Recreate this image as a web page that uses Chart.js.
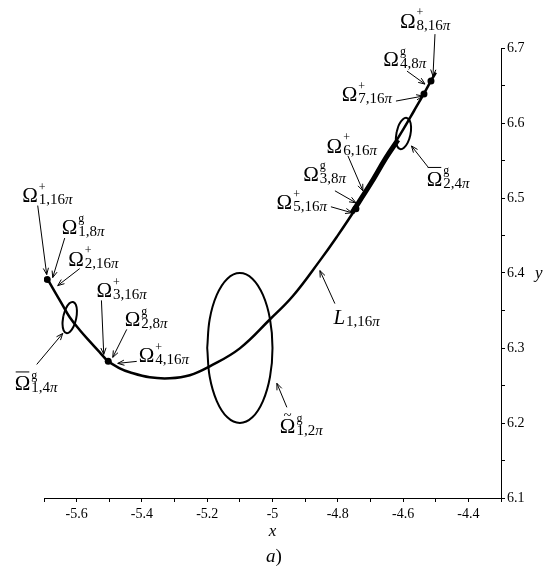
<!DOCTYPE html>
<html>
<head>
<meta charset="utf-8">
<script src="https://cdn.jsdelivr.net/npm/chart.js@4.4.0/dist/chart.umd.min.js"></script>
<style>
html, body { margin: 0; padding: 0; background: #fff; }
#wrap { width: 550px; height: 577px; position: relative; }
</style>
</head>
<body>
<div id="wrap"><canvas id="chart_trajectory"></canvas></div>
<script>
// trajectory L_{1,16pi}
var curveX = [-5.6917, -5.6672, -5.6457, -5.6212, -5.5906, -5.5599, -5.5292, -5.5032, -5.4679, -5.4373,
              -5.3760, -5.3147, -5.2534, -5.1921, -5.1001, -5.0082, -4.9376, -4.8549, -4.8027, -4.7476,
              -4.7015, -4.6525, -4.6004, -4.5667, -4.5360, -4.5116, -4.4994];
var curveY = [6.3939, 6.3753, 6.3593, 6.3411, 6.3241, 6.3088, 6.2942, 6.2822, 6.2729, 6.2676,
              6.2609, 6.2596, 6.2636, 6.2755, 6.2995, 6.3380, 6.3693, 6.4165, 6.4484, 6.4843,
              6.5176, 6.5535, 6.5907, 6.6160, 6.6392, 6.6585, 6.6672];

// heavier stretch of the trajectory between Omega_5 and Omega_{2,4}
var thickX = [-4.7567, -4.7015, -4.6525, -4.6157];
var thickY = [6.4803, 6.5176, 6.5535, 6.5774];

// Omega-bar^g_{1,4pi}
var ring1X = [-5.6408, -5.6329, -5.6221, -5.6111, -5.6025, -5.5991, -5.6016, -5.6093, -5.6203, -5.6313, -5.6399, -5.6433, -5.6408];
var ring1Y = [6.3426, 6.3527, 6.3596, 6.3614, 6.3578, 6.3495, 6.3388, 6.3287, 6.3218, 6.3199, 6.3235, 6.3319, 6.3426];

// Omega-bar^g_{2,4pi}
var ring2X = [-4.6197, -4.6120, -4.6004, -4.5887, -4.5795, -4.5755, -4.5777, -4.5857, -4.5973, -4.6090, -4.6181, -4.6221, -4.6197];
var ring2Y = [6.5880, 6.5981, 6.6051, 6.6068, 6.6031, 6.5948, 6.5840, 6.5739, 6.5670, 6.5652, 6.5690, 6.5773, 6.5880];

// Omega-tilde^g_{1,2pi}
var ring3X = [-5.2, -5.1924, -5.1707, -5.1383, -5.1, -5.0617, -5.0293, -5.0076, -5.0, -5.0076, -5.0293, -5.0617, -5.1, -5.1383, -5.1707, -5.1924, -5.2];
var ring3Y = [6.3, 6.3383, 6.3707, 6.3924, 6.4, 6.3924, 6.3707, 6.3383, 6.3, 6.2617, 6.2293, 6.2076, 6.2, 6.2076, 6.2293, 6.2617, 6.3];

// marked points
var dotX = [-5.6902, -5.5032, -4.7444, -4.5360, -4.5145];
var dotY = [6.3912, 6.2822, 6.4856, 6.6386, 6.6559];

// arrow targets of the labels
var tipX = [-5.6917, -5.6733, -5.6580, -5.5170, -5.4894, -5.4741, -5.6427, -4.9866,
            -4.8548, -4.7567, -4.7444, -4.7230, -4.5391, -4.5329, -4.5084, -4.5743];
var tipY = [6.3979, 6.3939, 6.3832, 6.2915, 6.2875, 6.2795, 6.3194, 6.2529,
            6.4032, 6.4803, 6.4936, 6.5096, 6.6359, 6.6519, 6.6625, 6.5694];
var tipMain   = ['Ω', 'Ω', 'Ω', 'Ω', 'Ω', 'Ω', 'Ω', 'Ω', 'L', 'Ω', 'Ω', 'Ω', 'Ω', 'Ω', 'Ω', 'Ω'];
var tipAccent = ['', '', '', '', '', '', 'bar', 'tilde', '', '', '', '', '', '', '', 'bar'];
var tipSup    = ['+', 'g', '+', '+', 'g', '+', 'g', 'g', '', '+', 'g', '+', '+', 'g', '+', 'g'];
var tipSub    = ['1,16', '1,8', '2,16', '3,16', '2,8', '4,16', '1,4', '1,2',
                 '1,16', '5,16', '3,8', '6,16', '7,16', '4,8', '8,16', '2,4'];

var xTickValues = [-5.6, -5.4, -5.2, -5.0, -4.8, -4.6, -4.4];
var xTickLabels = ['-5.6', '-5.4', '-5.2', '-5', '-4.8', '-4.6', '-4.4'];
var yTickValues = [6.1, 6.2, 6.3, 6.4, 6.5, 6.6, 6.7];
var yTickLabels = ['6.1', '6.2', '6.3', '6.4', '6.5', '6.6', '6.7'];

// label placement, pixels relative to the arrow tip: [tailDx, tailDy, textDx, textDy]
var labelLayout = [
    [-9, -69, -24.5, -72.5], [12, -39.5, 9, -44], [22, -17, 10.5, -20], [-2.3, -54, -7.3, -57.3],
    [14, -28, 12, -31], [19, -2, 21, -1], [-26, 31, -48, 57], [10, 24, 3, 50],
    [15, 33, 13.5, 53.3], [-21, -6, -75.3, -3.7], [-21, -12, -52.7, -22], [-15, -35, -36.3, -38.3],
    [-27, 5, -81.3, 5], [-18, -13, -41.7, -18], [2, -42, -33, -48.3], [16.5, 21, 15.2, 40]
];

var SERIF = '"Liberation Serif", "Times New Roman", serif';

function pts(xs, ys) {
    return xs.map(function (x, i) { return { x: x, y: ys[i] }; });
}

function tickLabel(values, labels) {
    return function (value) {
        for (var i = 0; i < values.length; i++) {
            if (Math.abs(values[i] - value) < 1e-6) return labels[i];
        }
        return '';
    };
}

function lineSet(data, width, tension) {
    return {
        data: data,
        showLine: true,
        borderColor: '#000',
        borderWidth: width,
        tension: tension,
        pointRadius: 0,
        fill: false
    };
}

function drawArrow(ctx, x0, y0, x1, y1) {
    ctx.beginPath();
    ctx.moveTo(x0, y0);
    ctx.lineTo(x1, y1);
    ctx.stroke();
    var ang = Math.atan2(y1 - y0, x1 - x0), len = 7, spread = 0.38;
    ctx.beginPath();
    ctx.moveTo(x1 - len * Math.cos(ang - spread), y1 - len * Math.sin(ang - spread));
    ctx.lineTo(x1, y1);
    ctx.lineTo(x1 - len * Math.cos(ang + spread), y1 - len * Math.sin(ang + spread));
    ctx.stroke();
}

function drawLabel(ctx, i, x, y) {
    var main = tipMain[i];
    ctx.font = (main === 'L' ? 'italic ' : '') + '21px ' + SERIF;
    ctx.fillText(main, x, y);
    var w = ctx.measureText(main).width;
    if (tipAccent[i] === 'bar') {
        ctx.beginPath();
        ctx.moveTo(x + 1, y - 18.5);
        ctx.lineTo(x + w - 1, y - 18.5);
        ctx.stroke();
    } else if (tipAccent[i] === 'tilde') {
        ctx.font = '15px ' + SERIF;
        ctx.textAlign = 'center';
        ctx.fillText('~', x + w / 2, y - 13);
        ctx.textAlign = 'left';
    }
    if (tipSup[i]) {
        ctx.font = '12px ' + SERIF;
        ctx.fillText(tipSup[i], x + w + 1, y - 11.5);
    }
    ctx.font = '15px ' + SERIF;
    ctx.fillText(tipSub[i], x + w + 1, y + 2);
    var sw = ctx.measureText(tipSub[i]).width;
    ctx.font = 'italic 15px ' + SERIF;
    ctx.fillText('π', x + w + 1 + sw, y + 2);
}

var annotationPlugin = {
    id: 'annotations',
    beforeDraw: function (chart) {
        var ctx = chart.ctx;
        ctx.save();
        ctx.fillStyle = '#fff';
        ctx.fillRect(0, 0, chart.width, chart.height);
        ctx.restore();
    },
    afterDraw: function (chart) {
        var ctx = chart.ctx, xs = chart.scales.x, ys = chart.scales.y;
        ctx.save();
        ctx.strokeStyle = '#000';
        ctx.fillStyle = '#000';
        ctx.lineWidth = 1;
        ctx.textBaseline = 'alphabetic';
        ctx.textAlign = 'left';
        for (var i = 0; i < tipX.length; i++) {
            var px = xs.getPixelForValue(tipX[i]);
            var py = ys.getPixelForValue(tipY[i]);
            var l = labelLayout[i];
            drawArrow(ctx, px + l[0], py + l[1], px, py);
            drawLabel(ctx, i, px + l[2], py + l[3]);
        }
        // axis names and panel caption
        var area = chart.chartArea;
        var mid = (area.left + area.right) / 2;
        ctx.font = 'italic 17px ' + SERIF;
        ctx.textAlign = 'center';
        ctx.fillText('x', mid, 536);
        ctx.textAlign = 'left';
        ctx.fillText('y', 535, ys.getPixelForValue(6.4) + 5);
        ctx.font = 'italic 19px ' + SERIF;
        ctx.textAlign = 'right';
        ctx.fillText('a', mid + 3, 562);
        ctx.font = '19px ' + SERIF;
        ctx.textAlign = 'left';
        ctx.fillText(')', mid + 3, 562);
        ctx.restore();
    }
};

var chart_trajectory = new Chart(document.getElementById('chart_trajectory'), {
    type: 'scatter',
    data: {
        datasets: [
            lineSet(pts(curveX, curveY), 2.5, 0.4),
            lineSet(pts(thickX, thickY), 5, 0.4),
            lineSet(pts(ring1X, ring1Y), 2, 0.4),
            lineSet(pts(ring2X, ring2Y), 2, 0.4),
            lineSet(pts(ring3X, ring3Y), 2, 0.4),
            {
                data: pts(dotX, dotY),
                showLine: false,
                pointRadius: 3.5,
                pointBackgroundColor: '#000',
                pointBorderWidth: 0
            }
        ]
    },
    options: {
        animation: false,
        responsive: true,
        maintainAspectRatio: false,
        layout: { padding: { left: 44, top: 48, right: 0, bottom: 0 } },
        plugins: {
            legend: { display: false },
            tooltip: { enabled: false }
        },
        scales: {
            x: {
                type: 'linear',
                position: 'bottom',
                min: -5.7,
                max: -4.3,
                grid: { drawOnChartArea: false, drawTicks: true, tickLength: 4, tickColor: '#000', tickWidth: 1 },
                border: { display: true, color: '#000', width: 1 },
                ticks: {
                    stepSize: 0.1,
                    autoSkip: false,
                    maxRotation: 0,
                    padding: 4,
                    color: '#000',
                    font: { family: SERIF, size: 14 },
                    callback: tickLabel(xTickValues, xTickLabels)
                },
                afterFit: function (scale) { scale.height = 79; }
            },
            y: {
                type: 'linear',
                position: 'right',
                min: 6.1,
                max: 6.7,
                grid: { drawOnChartArea: false, drawTicks: true, tickLength: 4, tickColor: '#000', tickWidth: 1 },
                border: { display: true, color: '#000', width: 1 },
                ticks: {
                    stepSize: 0.05,
                    autoSkip: false,
                    padding: 2,
                    color: '#000',
                    font: { family: SERIF, size: 14 },
                    callback: tickLabel(yTickValues, yTickLabels)
                },
                afterFit: function (scale) { scale.width = 49; }
            }
        }
    },
    plugins: [annotationPlugin]
});
</script>
</body>
</html>
